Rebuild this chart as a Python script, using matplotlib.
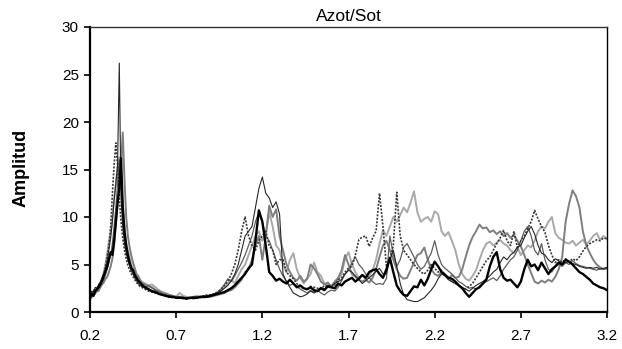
import numpy as np
import matplotlib
matplotlib.use("Agg")
import matplotlib.pyplot as plt

plt.rcParams['font.family'] = ['Liberation Sans', 'DejaVu Sans']

# frequency grid: fine near first peak, then 0.02 steps
freq_fine = np.round(np.arange(0.20, 0.505, 0.01), 2)
freq_coarse = np.round(np.arange(0.52, 3.205, 0.02), 2)
freq = np.concatenate([freq_fine, freq_coarse])

# ---- series (amplitude) ----
s_black = [
    1.5, 1.9, 1.7, 2.2, 2.4, 2.6, 2.9, 3.3, 3.8, 4.3,
    4.8, 5.6, 6.3, 6.0, 7.5, 9.5, 11.5, 13.0, 16.2, 11.0,
    8.5, 7.0, 6.0, 5.2, 4.6, 4.4, 3.9, 3.6, 3.3, 3.1,
    2.9,
    2.6, 2.4, 2.2, 2.1, 1.9, 1.8, 1.7, 1.6, 1.6, 1.5,
    1.5, 1.5, 1.4, 1.5, 1.5, 1.5, 1.6, 1.6, 1.6, 1.7,
    1.8, 1.9, 2.0, 2.1, 2.3, 2.5, 2.8, 3.2, 3.6, 4.0,
    4.6, 5.0, 7.5, 10.7, 9.5, 7.0, 4.2, 3.8, 3.3, 3.5,
    3.2, 3.0, 3.4, 3.0, 2.6, 2.8, 2.5, 2.4, 2.6, 2.3,
    2.2, 2.5, 2.3, 2.7, 2.6, 2.5, 3.0, 2.8, 3.2, 3.4,
    3.6, 3.2, 3.5, 3.9, 3.6, 4.2, 4.4, 4.5, 4.0, 3.6,
    4.5, 5.7, 4.2, 2.8, 2.2, 1.8, 1.7, 2.2, 2.7, 2.6,
    3.4, 2.8, 3.5, 4.5, 5.3, 4.8, 4.2, 3.9, 3.6, 3.5,
    3.2, 2.8, 2.5, 2.0, 1.6, 2.0, 2.4, 2.6, 3.0, 3.4,
    4.8, 5.8, 6.3, 4.5, 3.6, 3.3, 3.4, 3.0, 2.6, 3.2,
    4.5, 5.5, 4.8, 5.0, 4.4, 5.2, 4.6, 4.0, 4.5, 4.8,
    5.2, 5.0, 5.5, 5.3, 5.0, 4.6, 4.2, 4.0, 3.7, 3.4,
    3.0, 2.8, 2.6, 2.5, 2.3,
]
s_thin = [
    1.8, 2.2, 2.0, 2.6, 2.5, 2.9, 3.2, 3.6, 4.0, 4.6,
    5.4, 6.6, 7.8, 9.5, 11.8, 13.5, 15.5, 26.2, 12.0, 9.0,
    7.2, 6.2, 5.4, 4.9, 4.3, 4.0, 3.6, 3.3, 3.0, 2.8,
    2.7,
    2.5, 2.3, 2.1, 2.0, 1.9, 1.8, 1.7, 1.7, 1.6, 1.5,
    1.5, 1.4, 1.5, 1.5, 1.6, 1.5, 1.6, 1.7, 1.7, 1.8,
    1.9, 2.0, 2.2, 2.5, 2.8, 3.3, 4.0, 5.0, 6.5, 8.0,
    8.5, 9.0, 11.0, 13.0, 14.2, 12.5, 12.0, 11.0, 11.6, 10.3,
    4.0, 3.2, 2.6, 2.0, 1.8, 1.6, 1.7, 1.9, 2.2, 2.0,
    2.2, 2.6, 2.4, 2.8, 2.7, 3.0, 3.2, 3.4, 4.0, 4.4,
    4.2, 3.8, 3.4, 3.0, 3.3, 3.6, 3.9, 4.3, 4.6, 4.0,
    4.0, 5.5, 6.5, 4.8, 3.0, 1.8, 1.3, 1.2, 1.1, 1.1,
    1.3, 1.5, 1.9, 2.3, 2.8, 3.5, 4.0, 3.8, 3.4, 3.2,
    3.0, 2.8, 2.6, 2.4, 2.2, 2.5, 2.8, 3.0, 3.2, 3.5,
    3.8, 4.2, 4.5, 5.2, 5.8, 5.5, 6.0, 6.3, 6.8, 7.0,
    7.8, 8.5, 9.0, 8.2, 7.0, 6.2, 6.0, 5.5, 5.2, 5.6,
    5.4, 5.0, 5.2, 5.3, 5.1, 5.0, 4.8, 4.7, 4.6, 4.7,
    4.6, 4.7, 4.5, 4.6, 4.7,
]
s_gray = [
    1.4, 1.7, 2.1, 1.9, 2.3, 2.2, 2.6, 2.9, 3.1, 3.5,
    3.7, 4.2, 4.8, 5.6, 7.0, 9.2, 11.5, 14.0, 15.5, 18.9,
    14.0, 10.0, 8.0, 6.8, 5.9, 5.2, 4.6, 4.0, 3.8, 3.4,
    3.1,
    2.9, 2.7, 2.6, 2.3, 2.2, 2.0, 1.9, 1.8, 1.7, 1.6,
    1.6, 1.5, 1.5, 1.5, 1.4, 1.5, 1.5, 1.6, 1.6, 1.6,
    1.7, 1.8, 1.9, 2.0, 2.2, 2.3, 2.6, 3.0, 3.4, 4.2,
    4.5, 5.5, 7.0, 8.0, 5.5, 8.0, 11.2, 10.0, 10.8, 8.0,
    6.5, 5.0, 4.2, 3.6, 3.3, 3.8, 3.2, 3.5, 5.0, 4.6,
    4.0, 3.2, 2.9, 3.1, 2.7, 3.2, 3.6, 4.4, 6.0, 5.0,
    4.0, 3.7, 3.4, 3.2, 3.4, 3.1, 3.6, 4.5, 5.8, 7.0,
    7.5, 6.5, 5.5, 4.5, 3.8, 3.5, 3.6, 4.4, 5.2, 6.0,
    6.2, 6.8, 5.5, 4.5, 4.0, 3.8, 4.2, 4.0, 3.5, 3.9,
    3.6, 3.7, 4.5, 5.8, 7.0, 7.9, 8.5, 9.2, 8.8, 8.9,
    8.4, 8.6, 8.2, 8.5, 8.0, 8.3, 7.8, 8.1, 7.5, 6.9,
    6.0, 5.0, 4.1, 3.2, 3.0, 3.3, 3.1, 3.4, 3.2, 3.7,
    4.5, 5.8, 9.5, 11.4, 12.8, 12.2, 11.0, 8.5, 7.0, 6.2,
    5.5, 5.0, 4.7, 4.5, 4.6,
]
s_light = [
    1.7, 1.5, 2.0, 2.3, 2.1, 2.6, 3.0, 3.5, 4.2, 5.1,
    6.2, 7.5, 8.5, 10.0, 12.0, 13.5, 15.2, 16.3, 14.5, 11.5,
    9.0, 7.3, 6.4, 5.7, 5.0, 4.6, 4.3, 3.9, 3.6, 3.4,
    3.2,
    3.0, 2.8, 2.9, 2.6, 2.3, 2.1, 2.0, 1.8, 1.7, 1.6,
    2.0, 1.7, 1.6, 1.5, 1.6, 1.7, 1.6, 1.5, 1.6, 1.7,
    1.8, 2.0, 2.3, 2.6, 3.0, 3.4, 3.0, 3.8, 4.5, 5.0,
    6.0, 7.0, 8.0, 8.5, 7.5, 8.2, 10.5, 9.0, 7.0, 6.5,
    5.0, 4.2, 5.5, 6.2, 4.5, 3.6, 3.0, 3.5, 4.0, 5.2,
    4.2, 3.8, 3.0, 2.8, 2.6, 3.0, 3.4, 4.0, 5.6, 6.3,
    5.0, 4.2, 3.6, 3.9, 3.4, 3.8, 4.4, 5.5, 7.2, 8.6,
    8.0, 9.0, 10.0, 9.5, 10.2, 11.0, 10.5, 11.5, 12.7, 10.5,
    9.5, 9.8, 10.0, 9.5, 10.6, 10.3, 8.5, 8.0, 8.4, 7.5,
    6.5, 5.0, 4.0, 3.5, 3.3, 3.8, 4.4, 5.5, 6.5, 7.2,
    7.4, 7.0, 7.3, 7.6, 7.2, 7.0, 6.5, 6.2, 6.8, 6.0,
    6.5, 7.0, 6.8, 7.5, 8.5, 9.0, 8.8, 9.5, 10.0, 8.3,
    7.8, 7.6, 7.3, 7.2, 7.5, 7.0, 7.3, 7.6, 7.1, 7.5,
    8.0, 8.3, 7.6, 8.0, 7.7,
]
s_dotted = [
    1.6, 1.9, 2.3, 2.1, 2.5, 2.8, 3.0, 3.4, 4.0, 4.8,
    5.8, 7.0, 9.0, 12.5, 15.5, 17.8, 15.5, 12.0, 9.5, 7.8,
    6.5, 5.6, 4.9, 4.4, 4.0, 3.7, 3.4, 3.1, 2.9, 2.7,
    2.6,
    2.4, 2.2, 2.1, 2.0, 1.9, 1.8, 1.7, 1.6, 1.5, 1.5,
    1.5, 1.4, 1.4, 1.5, 1.5, 1.6, 1.6, 1.7, 1.8, 1.8,
    1.9, 2.1, 2.4, 2.8, 3.2, 4.0, 5.0, 6.5, 8.5, 10.0,
    8.0, 7.0, 6.5, 7.5, 8.0, 8.5, 7.0, 6.5, 5.0, 5.5,
    5.5, 4.2, 3.8, 3.5, 3.0, 2.6, 2.5, 2.3, 2.7, 2.6,
    2.5, 2.4, 2.8, 2.7, 2.5, 2.9, 3.4, 3.6, 4.2, 4.6,
    4.8, 6.0, 7.6, 7.9, 8.0, 6.9, 7.8, 8.5, 12.5, 9.0,
    4.8, 5.5, 7.0, 12.6, 8.0, 6.5, 6.0, 5.5, 5.0, 4.6,
    4.2, 4.0, 4.4, 5.0, 4.6, 4.2, 4.4, 3.9, 3.5, 3.2,
    3.0, 2.8, 2.5, 2.4, 2.7, 3.0, 3.6, 4.2, 4.8, 5.4,
    5.8, 6.5, 7.2, 7.8, 8.6, 7.5, 7.0, 8.5, 6.8, 7.5,
    8.0, 8.8, 9.5, 10.7, 9.8, 9.0, 8.4, 7.0, 6.0, 5.2,
    5.5, 5.2, 5.6, 5.3, 5.6, 5.4, 5.8, 6.4, 6.9, 7.2,
    7.4, 7.6, 7.5, 7.8, 7.7,
]
s_mid = [
    1.3, 1.6, 1.8, 2.4, 2.2, 2.5, 2.7, 3.1, 3.4, 3.9,
    4.5, 5.2, 6.0, 7.2, 9.0, 11.0, 13.5, 16.0, 13.0, 10.0,
    8.0, 6.8, 5.8, 5.0, 4.5, 4.1, 3.7, 3.4, 3.2, 3.0,
    2.8,
    2.6, 2.8, 2.5, 2.3, 2.1, 1.9, 1.8, 1.7, 1.6, 1.6,
    1.6, 1.5, 1.5, 1.4, 1.5, 1.5, 1.6, 1.6, 1.7, 1.8,
    1.9, 2.1, 2.4, 2.9, 3.5, 3.2, 3.8, 4.5, 5.2, 6.0,
    7.0, 8.0, 9.5, 10.5, 9.5, 8.0, 7.5, 6.5, 5.5, 4.5,
    3.8, 3.2, 2.8, 3.0, 2.7, 2.4, 2.2, 2.0, 2.3, 2.1,
    2.3, 2.0, 1.8, 2.1, 2.3, 2.2, 2.6, 3.3, 4.0, 4.4,
    5.2, 5.8, 5.0, 4.6, 4.0, 3.6, 3.2, 2.9, 3.0, 2.9,
    3.5, 8.0, 6.0, 4.8, 5.5, 6.8, 7.2, 6.5, 5.8, 5.0,
    4.5, 4.8, 5.5, 6.2, 7.5, 6.0, 5.0, 4.6, 4.3, 4.0,
    3.6, 3.2, 3.0, 2.7, 2.5, 2.6, 2.4, 2.7, 3.0, 3.2,
    3.4, 3.6, 3.3, 3.8, 4.5, 5.0, 5.5, 5.8, 6.5, 7.5,
    8.5, 9.0, 8.0, 6.5, 6.0, 7.2, 5.5, 4.5, 4.2, 4.8,
    5.0, 4.8, 5.2, 5.0, 5.4, 5.1, 4.9, 4.8, 4.7, 4.6,
    4.5, 4.4, 4.6, 4.5, 4.6,
]

title = "Azot/Sot"
ylabel = "Amplitud"
xticks = [0.2, 0.7, 1.2, 1.7, 2.2, 2.7, 3.2]
xticklabels = ["0.2", "0.7", "1.2", "1.7", "2.2", "2.7", "3.2"]
yticks = [0, 5, 10, 15, 20, 25, 30]

series = [
    (s_light, dict(color="#a9a9a9", lw=1.4, ls="-")),
    (s_gray, dict(color="#7f7f7f", lw=1.4, ls="-")),
    (s_mid, dict(color="#5e5e5e", lw=0.9, ls="-")),
    (s_dotted, dict(color="#383838", lw=1.2, ls=(0, (1.2, 0.9)))),
    (s_thin, dict(color="#262626", lw=0.8, ls="-")),
    (s_black, dict(color="#000000", lw=1.7, ls="-")),
]
for vals, _ in series:
    if len(vals) != len(freq):
        raise ValueError(f"length {len(vals)} != {len(freq)}")

fig = plt.figure(figsize=(6.22, 3.49), dpi=100)
ax = fig.add_axes([90 / 622, 1 - 312 / 349, (607 - 90) / 622, (312 - 27) / 349])

for vals, st in series:
    ax.plot(freq, vals, color=st["color"], lw=st["lw"], ls=st["ls"],
            solid_joinstyle="round")

ax.set_xlim(0.2, 3.2)
ax.set_ylim(0, 30)
ax.set_xticks(xticks)
ax.set_xticklabels(xticklabels)
ax.set_yticks(yticks)
ax.tick_params(axis="both", direction="out", length=4, width=1.2,
               labelsize=11, colors="black")
ax.tick_params(axis="x", pad=8)
ax.tick_params(axis="y", pad=4)

for side in ["left", "bottom"]:
    ax.spines[side].set_linewidth(1.6)
    ax.spines[side].set_color("black")
ax.spines["top"].set_linewidth(1.0)
ax.spines["top"].set_color("#333333")
ax.spines["right"].set_linewidth(1.0)
ax.spines["right"].set_color("black")

ax.set_title(title, fontsize=12.5, pad=4)
fig.text(21 / 622, 1 - 168 / 349, ylabel, rotation=90, fontsize=13,
         fontweight="bold", ha="center", va="center")

fig.savefig("out.png", dpi=100)
